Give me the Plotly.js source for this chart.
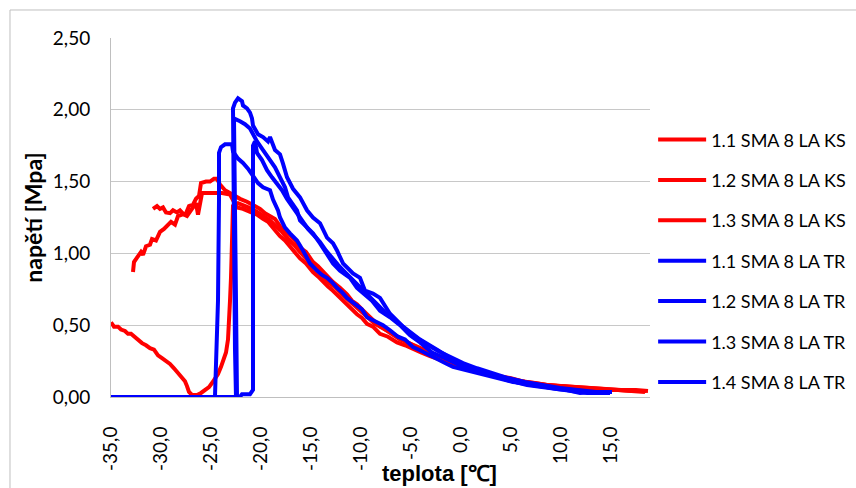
<!DOCTYPE html>
<html>
<head>
<meta charset="utf-8">
<script src="https://cdn.plot.ly/plotly-3.0.1.min.js"></script>
<style>
html,body{margin:0;padding:0;background:#fff;}
#chart{width:856px;height:488px;}
</style>
</head>
<body>
<div id="chart"></div>
<script>
// ---------- DATA (temperature [°C], stress [MPa]) ----------
const seriesNames = [
  "1.1 SMA 8 LA KS", "1.2 SMA 8 LA KS", "1.3 SMA 8 LA KS",
  "1.1 SMA 8 LA TR", "1.2 SMA 8 LA TR", "1.3 SMA 8 LA TR", "1.4 SMA 8 LA TR"
];

const ks11T = [-32.8,-32.7,-32.4,-32.0,-31.8,-31.5,-31.1,-30.9,-30.5,-30.1,-29.7,-29.4,-29.0,-28.6,-28.3,-27.9,-27.5,-27.2,-26.8,-26.5,-26.2,-26.0,-25.5,-25.1,-24.7,-24.4,-24.1,-23.6,-23.1,
  -22.8,-22.1,-21.4,-20.8,-20.1,-19.6,-19.1,-18.6,-18.1,-17.6,-17.1,-16.6,-16.1,-15.5,-14.8,-14.3,-13.8,-13.3,-12.8,-12.1,-11.4,-10.9,-10.4,-9.9,-9.4,-8.8,-8.1,-7.3,-6.4,-5.6,-4.8,-4.0,-3.1,-2.3,-1.4,-0.6,0.2,1.1,1.9,2.8,3.6,4.5,5.4,6.4,7.4,8.6,9.9,11.2,12.7,14.2,15.7,17.2,18.5];
const ks11V = [0.87,0.94,0.97,1.01,0.99,1.05,1.06,1.10,1.09,1.15,1.17,1.19,1.22,1.20,1.26,1.27,1.28,1.33,1.34,1.38,1.40,1.49,1.50,1.50,1.52,1.52,1.48,1.44,1.42,
  1.40,1.38,1.36,1.34,1.31,1.28,1.26,1.24,1.19,1.16,1.125,1.09,1.04,1.01,0.94,0.91,0.87,0.84,0.80,0.76,0.715,0.67,0.645,0.61,0.576,0.54,0.49,0.46,0.42,0.39,0.36,0.33,0.305,0.285,0.257,0.236,0.215,0.194,0.174,0.16,0.146,0.132,0.118,0.104,0.097,0.083,0.076,0.069,0.063,0.056,0.049,0.042,0.042];

const ks12T = [-30.8,-30.4,-30.1,-29.8,-29.5,-29.1,-28.8,-28.4,-28.1,-27.7,-27.4,-27.1,-26.8,-26.5,-26.3,-26.1,-25.9,-25.3,-24.6,-23.9,-23.1,-22.4,
  -21.8,-21.1,-20.4,-19.8,-19.3,-18.7,-18.1,-17.6,-17.1,-16.6,-16.1,-15.5,-14.8,-14.3,-13.8,-13.3,-12.8,-12.1,-11.4,-10.9,-10.4,-9.9,-9.4,-8.8,-8.1,-7.3,-6.4,-5.6,-4.8,-4.0,-3.1,-2.3,-1.4,-0.6,0.2,1.1,1.9,2.8,3.6,4.5,5.4,6.4,7.4,8.6,9.9,11.2,12.7,14.2,15.7,17.2,18.4];
const ks12V = [1.31,1.33,1.31,1.32,1.285,1.28,1.30,1.285,1.30,1.27,1.26,1.29,1.31,1.35,1.27,1.37,1.42,1.42,1.42,1.42,1.41,1.32,
  1.31,1.29,1.27,1.24,1.22,1.17,1.12,1.09,1.05,1.01,0.965,0.93,0.87,0.84,0.80,0.77,0.74,0.69,0.645,0.61,0.576,0.55,0.51,0.49,0.44,0.42,0.38,0.36,0.333,0.31,0.285,0.264,0.243,0.23,0.208,0.19,0.174,0.153,0.139,0.125,0.118,0.104,0.09,0.083,0.069,0.063,0.056,0.049,0.049,0.042,0.035];

const ks13T = [-35.0,-34.7,-34.3,-34.0,-33.6,-33.3,-33.0,-32.7,-32.3,-31.9,-31.5,-31.1,-30.7,-30.3,-29.9,-29.5,-29.1,-28.7,-28.3,-27.9,-27.6,-27.4,-27.2,-26.9,-26.4,-26.0,-25.6,-25.2,-24.9,-24.6,-24.3,-24.0,-23.7,-23.5,-23.3,-23.2,-23.1,-23.0,-22.9,-22.8,-22.3,
  -21.6,-20.9,-20.3,-19.6,-19.1,-18.5,-17.9,-17.3,-16.7,-16.1,-15.5,-14.9,-14.3,-13.7,-13.1,-12.5,-11.9,-11.2,-10.6,-10.0,-9.3,-8.6,-7.8,-6.9,-6.1,-5.2,-4.3,-3.4,-2.5,-1.5,-0.5,0.5,1.5,2.6,3.7,4.9,6.1,7.3,8.6,10.0,11.5,13.0,14.5,16.0,17.5,18.7];
const ks13V = [0.52,0.49,0.49,0.47,0.46,0.44,0.44,0.42,0.40,0.375,0.36,0.34,0.33,0.29,0.27,0.25,0.23,0.20,0.17,0.14,0.11,0.076,0.035,0.014,0.014,0.028,0.049,0.069,0.097,0.125,0.16,0.21,0.26,0.31,0.40,0.50,0.67,0.83,1.09,1.33,1.35,
  1.33,1.31,1.285,1.25,1.23,1.19,1.15,1.10,1.06,1.01,0.965,0.91,0.875,0.83,0.79,0.76,0.715,0.67,0.63,0.60,0.555,0.51,0.48,0.44,0.40,0.375,0.347,0.32,0.29,0.264,0.236,0.215,0.194,0.167,0.146,0.132,0.11,0.097,0.083,0.076,0.069,0.063,0.056,0.049,0.049,0.042];

const tr11T = [-25.8,-24.7,-24.6,-24.5,-24.4,-24.3,-24.2,-24.2,-24.0,-23.6,-22.9,-22.8,-22.3,-21.8,-21.3,-20.8,-20.3,-19.8,-19.3,-19.1,-18.8,-18.6,-18.3,-18.1,-17.6,-17.1,-16.4,-15.8,-15.1,-14.4,-13.9,-13.4,-12.9,-12.4,-11.9,-11.4,-10.6,-9.9,-9.4,-8.6,-7.8,-7.1,-6.3,-5.6,-4.8,-4.1,-3.4,-2.8,-2.1,-1.4,-0.8,0.1,0.9,1.9,2.9,3.9,5.2,6.2,7.2,8.6,9.6,10.6,11.9,12.9,13.9];
const tr11V = [0,0,0.007,0.19,0.40,0.67,1.37,1.70,1.74,1.76,1.76,1.71,1.66,1.63,1.59,1.54,1.49,1.46,1.44,1.44,1.375,1.35,1.30,1.25,1.18,1.14,1.09,1.02,0.93,0.88,0.85,0.83,0.80,0.76,0.73,0.69,0.65,0.61,0.555,0.53,0.50,0.465,0.42,0.40,0.347,0.326,0.30,0.28,0.25,0.23,0.21,0.194,0.18,0.167,0.146,0.132,0.104,0.097,0.083,0.063,0.056,0.049,0.028,0.035,0.028];

const tr12T = [-23.6,-22.5,-22.6,-22.7,-22.8,-22.8,-22.6,-22.3,-21.9,-21.8,-21.4,-21.1,-20.9,-20.8,-20.3,-19.8,-19.3,-19.1,-18.6,-18.1,-17.8,-17.4,-17.1,-16.8,-16.1,-15.4,-14.8,-14.1,-13.4,-12.8,-12.4,-11.8,-10.8,-10.1,-9.6,-8.8,-8.1,-7.1,-5.8,-4.1,-2.4,-0.8,0.9,2.6,4.6,6.6,8.6,10.6,12.6,14.9];
const tr12V = [0,0,0.33,1.02,1.72,2.01,2.05,2.08,2.06,2.03,2.01,1.98,1.94,1.89,1.83,1.81,1.78,1.81,1.72,1.69,1.625,1.53,1.49,1.45,1.39,1.30,1.25,1.21,1.11,1.07,1.02,0.93,0.86,0.83,0.74,0.72,0.69,0.58,0.49,0.40,0.33,0.26,0.21,0.167,0.118,0.083,0.063,0.042,0.028,0.028];

const tr13T = [-23.4,-22.4,-22.5,-22.6,-22.7,-22.7,-22.1,-21.6,-21.1,-20.8,-20.4,-19.9,-19.4,-19.1,-18.6,-18.1,-17.6,-17.3,-16.4,-16.1,-15.4,-14.8,-14.1,-13.4,-12.8,-12.1,-11.1,-10.4,-9.6,-8.9,-8.1,-7.1,-6.1,-5.1,-4.1,-2.9,-1.6,-0.1,1.4,2.9,4.4,5.9,7.7,9.4,11.1,12.9,14.4];
const tr13V = [0,0,0.67,1.37,1.85,1.94,1.92,1.90,1.87,1.83,1.78,1.73,1.68,1.65,1.60,1.53,1.46,1.39,1.30,1.23,1.18,1.14,1.07,1.00,0.93,0.88,0.83,0.76,0.71,0.67,0.60,0.555,0.50,0.43,0.38,0.31,0.27,0.22,0.19,0.153,0.125,0.097,0.076,0.063,0.049,0.035,0.035];

const tr14T = [-35.0,-22.1,-21.9,-21.1,-20.8,-20.8,-20.8,-20.8,-20.6,-20.4,-19.9,-19.4,-18.9,-18.4,-17.9,-17.4,-16.9,-16.4,-15.9,-15.3,-14.7,-14.1,-13.5,-12.9,-12.3,-11.6,-10.9,-10.1,-9.3,-8.5,-7.6,-6.6,-5.6,-4.6,-3.5,-2.3,-1.1,0.2,1.6,3.1,4.7,6.4,8.1,9.9,11.7,13.5,15.1];
const tr14V = [0,0,0.02,0.02,0.05,0.67,1.37,1.75,1.78,1.70,1.65,1.58,1.53,1.49,1.44,1.38,1.33,1.28,1.23,1.17,1.125,1.08,1.02,0.965,0.92,0.87,0.82,0.76,0.71,0.65,0.59,0.535,0.48,0.42,0.37,0.32,0.28,0.236,0.20,0.167,0.132,0.104,0.083,0.063,0.049,0.035,0.035];

const xTickVals = [-35,-30,-25,-20,-15,-10,-5,0,5,10,15];
const xTickText = ["-35,0","-30,0","-25,0","-20,0","-15,0","-10,0","-5,0","0,0","5,0","10,0","15,0"];
const yTickVals = [0,0.5,1,1.5,2,2.5];
const yTickText = ["0,00","0,50","1,00","1,50","2,00","2,50"];
const xTitle = "teplota [℃]";
const yTitle = "napětí [Mpa]";

// ---------- CHART ----------
const RED = "#ff0000", BLUE = "#0000ff";
const seriesT = [ks11T, ks12T, ks13T, tr11T, tr12T, tr13T, tr14T];
const seriesV = [ks11V, ks12V, ks13V, tr11V, tr12V, tr13V, tr14V];
const seriesC = [RED, RED, RED, BLUE, BLUE, BLUE, BLUE];

const traces = seriesNames.map((n, i) => ({
  type: "scatter", mode: "lines", name: n,
  x: seriesT[i], y: seriesV[i],
  legendgroup: "g" + i,
  line: {color: seriesC[i], width: 4}
}));

const baseFont = "Lato, 'Open Sans', sans-serif";
const layout = {
  width: 856, height: 488,
  margin: {l: 111, r: 206, t: 38, b: 91},
  paper_bgcolor: "#ffffff", plot_bgcolor: "#ffffff",
  font: {family: baseFont, size: 19, color: "#000"},
  showlegend: true,
  legend: {
    xref: "container", yref: "paper",
    x: 0.763, xanchor: "left", y: 0.768, yanchor: "top",
    font: {family: baseFont, size: 18, color: "#000"},
    tracegroupgap: 14, itemwidth: 48, bgcolor: "rgba(0,0,0,0)"
  },
  xaxis: {
    range: [-35, 18.9],
    tickmode: "array", tickvals: xTickVals, ticktext: xTickText,
    tickangle: -90, showgrid: false, zeroline: false,
    showline: true, linecolor: "#bfbfbf", linewidth: 1,
    ticks: "", ticklabelstandoff: 21,
    tickfont: {family: baseFont, size: 19}
  },
  yaxis: {
    range: [0, 2.5],
    tickmode: "array", tickvals: yTickVals, ticktext: yTickText,
    showgrid: true, gridcolor: "#c8c8c8", gridwidth: 1, zeroline: false,
    showline: true, linecolor: "#bfbfbf", linewidth: 1,
    ticks: "", ticklabelstandoff: 16,
    tickfont: {family: baseFont, size: 19}
  },
  annotations: [
    {text: xTitle, xref: "paper", yref: "paper", x: 0.61, y: -0.212,
     xanchor: "center", yanchor: "middle", showarrow: false,
     font: {family: "'Liberation Sans', Arial, sans-serif", size: 22, weight: "bold", color: "#000"}},
    {text: yTitle, xref: "paper", yref: "paper", x: -0.145, y: 0.499,
     xanchor: "center", yanchor: "middle", showarrow: false, textangle: -90,
     font: {family: baseFont, size: 23, weight: "bold", color: "#000"}}
  ],
  shapes: [{
    type: "rect", xref: "paper", yref: "paper",
    x0: -0.1874, x1: 1.8, y0: -0.6, y1: 1.078,
    line: {color: "#bfbfbf", width: 1}, fillcolor: "rgba(0,0,0,0)", layer: "below"
  }]
};

Plotly.newPlot("chart", traces, layout, {displayModeBar: false, staticPlot: true});
</script>
</body>
</html>
